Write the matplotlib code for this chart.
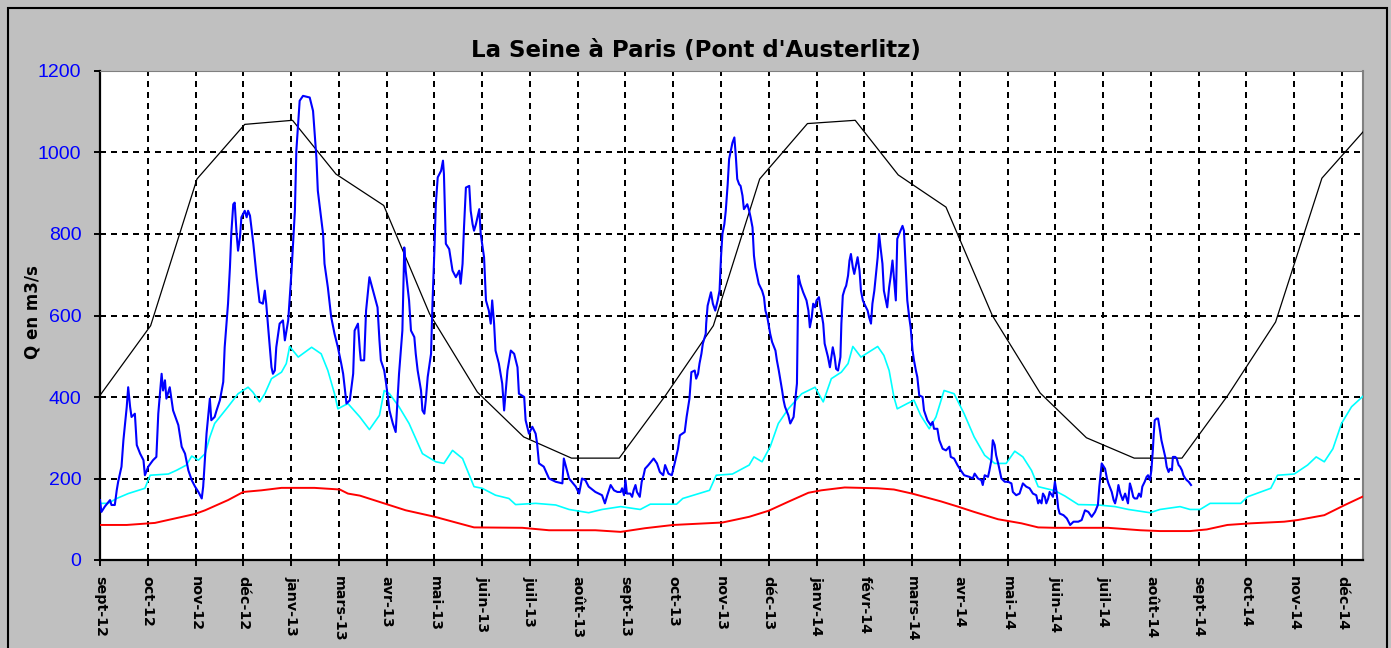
import matplotlib
matplotlib.use('Agg')
import matplotlib.pyplot as plt
from matplotlib.patches import Rectangle

# x positions are in axis-tick units (one tick = 31 days, tick 0 = late Sept 2012)
tick_labels = ['sept-12', 'oct-12', 'nov-12', 'déc-12', 'janv-13', 'mars-13', 'avr-13',
               'mai-13', 'juin-13', 'juil-13', 'août-13', 'sept-13', 'oct-13', 'nov-13',
               'déc-13', 'janv-14', 'févr-14', 'mars-14', 'avr-14', 'mai-14', 'juin-14',
               'juil-14', 'août-14', 'sept-14', 'oct-14', 'nov-14', 'déc-14']
y_ticks = [0, 200, 400, 600, 800, 1000, 1200]

# monthly high flows (black)
black_t = [0.0, 1.06, 2.03, 3.03, 4.03, 4.94, 5.94, 6.90, 7.90, 8.87, 9.87, 10.87, 11.84, 12.84,
           13.81, 14.81, 15.81, 16.71, 17.71, 18.68, 19.68, 20.65, 21.65, 22.65, 23.61, 24.61,
           25.58, 26.58]
black_q = [404, 575, 935, 1069, 1079, 947, 870, 604, 412, 302, 250, 250, 404, 575,
           935, 1071, 1079, 945, 866, 600, 410, 300, 250, 250, 404, 584, 937, 1069]

# low flows (red)
red_t = [0.00, 0.56, 1.15, 1.57, 1.99, 2.20, 2.68, 3.00, 3.38, 3.80, 4.49, 5.02, 5.19, 5.44,
         6.00, 6.40, 7.01, 7.45, 7.83, 8.84, 9.40, 10.37, 10.90, 11.41, 12.00, 13.03, 13.59,
         14.00, 14.41, 14.83, 15.10, 15.59, 16.28, 16.62, 17.00, 17.60, 17.96, 18.30, 18.80,
         19.29, 19.64, 20.00, 21.10, 21.78, 22.19, 22.82, 23.17, 23.60, 24.09, 24.79, 25.07,
         25.63, 26.06, 26.46]
red_q = [86, 86, 91, 102, 113, 122, 147, 167, 171, 177, 177, 173, 163, 158,
         137, 122, 106, 92, 80, 79, 73, 73, 69, 78, 86, 92, 106,
         121, 143, 165, 171, 178, 176, 173, 163, 144, 131, 118, 100,
         90, 80, 79, 79, 73, 71, 71, 75, 86, 90, 94, 98,
         110, 135, 157]

# mean daily flows (cyan)
cyan_t = [0.00, 0.17, 0.35, 0.59, 0.94, 1.05, 1.43, 1.60, 1.81, 1.92, 2.06, 2.20, 2.30, 2.40,
          2.68, 2.89, 3.10, 3.20, 3.34, 3.45, 3.59, 3.80, 3.90, 3.97, 4.15, 4.43, 4.63, 4.77,
          4.91, 4.98, 5.19, 5.44, 5.64, 5.85, 5.95, 6.06, 6.26, 6.47, 6.75, 7.03, 7.20, 7.38,
          7.59, 7.83, 8.00, 8.28, 8.56, 8.70, 9.12, 9.54, 9.82, 10.23, 10.51, 10.90, 11.31,
          11.52, 12.07, 12.20, 12.76, 12.90, 13.24, 13.59, 13.69, 13.86, 14.03, 14.20, 14.41,
          14.69, 14.97, 15.14, 15.31, 15.52, 15.66, 15.76, 15.93, 16.28, 16.41, 16.52, 16.62,
          16.69, 16.90, 17.04, 17.18, 17.36, 17.50, 17.67, 17.88, 18.09, 18.30, 18.52, 18.73,
          18.97, 19.15, 19.32, 19.50, 19.64, 19.99, 20.20, 20.48, 20.90, 21.25, 21.53, 21.98,
          22.19, 22.61, 22.82, 23.03, 23.24, 23.88, 24.02, 24.51, 24.65, 25.00, 25.28, 25.46,
          25.63, 25.81, 25.99, 26.20, 26.46]
cyan_q = [139, 139, 151, 163, 176, 208, 211, 220, 233, 255, 245, 261, 302, 335,
          376, 408, 424, 412, 388, 408, 445, 461, 482, 524, 498, 522, 506, 465,
          408, 371, 384, 351, 320, 355, 416, 408, 376, 335, 261, 241, 237, 269,
          249, 180, 176, 159, 151, 136, 139, 135, 124, 116, 124, 131, 124,
          137, 137, 151, 171, 208, 211, 233, 253, 241, 278, 335, 371,
          408, 424, 388, 445, 461, 482, 524, 498, 524, 502, 465, 400,
          371, 384, 392, 355, 322, 351, 416, 408, 359, 302, 257, 237,
          237, 267, 253, 220, 180, 170, 157, 136, 135, 131, 124, 116,
          124, 131, 124, 124, 139, 139, 155, 176, 208, 211, 233, 253,
          241, 273, 335, 376, 404]

# observed daily flow Sept 2012 - Aug 2014 (blue)
blue_t = [0.00, 0.03, 0.10, 0.21, 0.24, 0.31, 0.35, 0.38, 0.45, 0.49, 0.56, 0.59, 0.63, 0.66,
          0.73, 0.77, 0.84, 0.91, 0.94, 1.01, 1.11, 1.18, 1.22, 1.29, 1.32, 1.36, 1.39, 1.46,
          1.53, 1.64, 1.71, 1.78, 1.85, 1.92, 1.99, 2.06, 2.13, 2.16, 2.23, 2.30, 2.33, 2.40,
          2.44, 2.51, 2.58, 2.61, 2.68, 2.72, 2.75, 2.79, 2.82, 2.86, 2.89, 2.93, 2.96, 3.03,
          3.07, 3.10, 3.14, 3.21, 3.28, 3.34, 3.41, 3.45, 3.48, 3.52, 3.59, 3.62, 3.66, 3.69,
          3.76, 3.83, 3.87, 3.94, 4.01, 4.08, 4.11, 4.18, 4.25, 4.39, 4.46, 4.53, 4.56, 4.67,
          4.70, 4.77, 4.84, 4.91, 4.98, 5.05, 5.09, 5.16, 5.23, 5.30, 5.33, 5.40, 5.44,
          5.46, 5.53, 5.57, 5.64, 5.81, 5.85, 5.88, 5.95, 5.99, 6.06, 6.13, 6.19, 6.26, 6.33,
          6.37, 6.40, 6.47, 6.51, 6.58, 6.61, 6.65, 6.72, 6.75, 6.79, 6.82, 6.86, 6.93, 6.96,
          7.00, 7.03, 7.07, 7.14, 7.18, 7.20, 7.24, 7.31, 7.38, 7.45, 7.52, 7.55, 7.59, 7.62,
          7.66, 7.73, 7.76, 7.80, 7.83, 7.87, 7.94, 7.97, 8.04, 8.08, 8.14, 8.18, 8.21, 8.25,
          8.28, 8.35, 8.42, 8.46, 8.49, 8.53, 8.60, 8.67, 8.74, 8.77, 8.88, 8.91, 8.98, 9.05,
          9.12, 9.15, 9.19, 9.29, 9.40, 9.54, 9.68, 9.71, 9.82, 9.96, 10.03, 10.09, 10.16,
          10.23, 10.37, 10.51, 10.57, 10.62, 10.69, 10.76, 10.83, 10.90,
          10.93, 10.97, 11.00, 11.03, 11.10, 11.14, 11.17, 11.21, 11.24, 11.30, 11.34, 11.38,
          11.41, 11.48, 11.59, 11.66, 11.72, 11.79, 11.83, 11.90, 11.97, 12.03, 12.10, 12.14,
          12.24, 12.28, 12.34, 12.38, 12.45, 12.48, 12.52, 12.55, 12.59, 12.62, 12.68, 12.69,
          12.72, 12.79, 12.83, 12.88, 12.93, 12.97, 13.00, 13.03, 13.07, 13.10, 13.14, 13.17,
          13.24, 13.28, 13.31, 13.34, 13.38, 13.41, 13.45, 13.48, 13.55, 13.59, 13.62, 13.66,
          13.69, 13.72, 13.79, 13.86, 13.90, 13.93, 13.97, 14.03, 14.07, 14.14, 14.17, 14.21,
          14.28, 14.31, 14.34, 14.41, 14.45, 14.52, 14.55, 14.59, 14.62, 14.66, 14.72, 14.79,
          14.83, 14.86, 14.90, 14.93, 14.97, 15.00, 15.05, 15.07, 15.14, 15.17, 15.24, 15.28,
          15.34, 15.38, 15.41, 15.45, 15.50, 15.52, 15.55, 15.59, 15.62, 15.66, 15.69, 15.72,
          15.76, 15.79, 15.86, 15.90, 15.93, 15.97, 16.00, 16.07, 16.10, 16.14, 16.17, 16.21,
          16.28, 16.31,
          16.34, 16.38, 16.41, 16.45, 16.48, 16.52, 16.55, 16.59, 16.62, 16.66, 16.69, 16.73,
          16.80, 16.83, 16.87, 16.90, 16.94, 16.97, 17.01, 17.04, 17.08, 17.11, 17.15, 17.22,
          17.25, 17.32, 17.39, 17.43, 17.46, 17.53, 17.57, 17.64, 17.71, 17.78, 17.81, 17.88,
          17.95, 18.02, 18.09, 18.20, 18.27, 18.31, 18.38, 18.45, 18.48, 18.52, 18.59, 18.62,
          18.66, 18.69, 18.73, 18.76, 18.81, 18.87, 18.94, 19.01, 19.08, 19.11, 19.18, 19.25,
          19.32, 19.39, 19.46, 19.53, 19.60, 19.64, 19.67, 19.71, 19.74, 19.78, 19.81, 19.85,
          19.88, 19.95, 19.99, 20.02, 20.06, 20.09, 20.17, 20.24, 20.31, 20.38, 20.48, 20.55,
          20.62, 20.69, 20.76, 20.83, 20.89, 20.92, 20.97, 21.04, 21.08, 21.11, 21.18, 21.22,
          21.25, 21.29, 21.32, 21.36, 21.41, 21.46, 21.52,
          21.56, 21.59, 21.63, 21.66, 21.71, 21.75, 21.79, 21.82, 21.87, 21.91, 21.94, 21.98,
          22.01, 22.04, 22.06, 22.08, 22.12, 22.15, 22.19, 22.22, 22.26, 22.30, 22.33, 22.37,
          22.40, 22.44, 22.46, 22.51, 22.54, 22.58, 22.61, 22.65, 22.68, 22.72, 22.75, 22.79,
          22.84]
blue_q = [147, 118, 131, 147, 135, 135, 171, 192, 229, 294, 376, 424, 376, 351,
          359, 282, 261, 245, 208, 229, 245, 253, 359, 457, 416, 441, 396, 424,
          367, 331, 278, 261, 220, 196, 180, 167, 151, 180, 310, 396, 343, 351,
          367, 392, 437, 522, 629, 718, 804, 873, 877, 800, 759, 792, 841, 857,
          841, 857, 845, 776, 694, 633, 629, 661, 629, 571, 473, 457, 465, 522,
          580, 588, 539, 588, 710, 857, 1004, 1127, 1139, 1135, 1102, 988, 906, 800,
          727, 669, 596, 555, 522, 482, 457, 384, 392, 457, 563, 580, 514,
          490, 490, 612, 694, 620, 539, 490, 465, 433, 367, 335, 314, 457, 563,
          767, 710, 637, 563, 547, 506, 465, 416, 367, 359, 392, 449, 506, 629,
          759, 873, 939, 955, 980, 947, 776, 763, 710, 694, 710, 678, 727, 816,
          914, 918, 857, 824, 808, 824, 861, 800, 743, 637, 612, 580, 637, 580,
          514, 482, 433, 367, 408, 465, 514, 506, 473, 408, 400, 343, 310, 327,
          310, 286, 237, 229, 200, 192, 188, 249, 200, 180, 163, 200, 196,
          180, 167, 159, 139, 159, 184, 171, 167, 167,
          176, 159, 196, 163, 163, 155, 171, 184, 167, 155, 192, 208,
          224, 233, 249, 237, 216, 208, 233, 212, 208, 237, 273, 306,
          314, 351, 396, 461, 465, 445, 457, 482, 506, 531, 555, 580,
          624, 657, 629, 612, 637, 661, 743, 800, 824, 857, 922, 984,
          1024, 1037, 992, 935, 922, 918, 894, 861, 873, 857, 841, 816,
          747, 718, 678, 661, 645, 612, 596, 555, 535, 514, 490, 465,
          416, 392, 376, 355, 335, 351, 388, 433, 698, 678, 657, 637,
          612, 571, 596, 629, 620, 637, 645, 629, 580, 531, 498, 473,
          522, 498, 469, 465, 498, 580, 649, 665, 673, 698, 735, 751,
          718, 702, 743, 710, 661, 637, 629, 612, 596, 580, 629, 661,
          743, 800,
          767, 727, 661, 637, 620, 669, 694, 735, 694, 637, 788, 800,
          820, 808, 710, 637, 596, 571, 514, 490, 465, 449, 404, 400,
          367, 343, 331, 339, 322, 322, 294, 273, 269, 278, 253, 249,
          233, 220, 208, 204, 200, 212, 200, 196, 184, 208, 204, 220,
          245, 294, 282, 257, 233, 200, 192, 192, 188, 167, 159, 163,
          188, 180, 176, 163, 159, 139, 147, 139, 163, 155, 139, 151,
          167, 155, 192, 171, 127, 114, 110, 102, 86, 94, 94, 98,
          122, 118, 106, 118, 135, 180, 237, 224, 200, 188, 167, 147,
          139, 159, 184, 163, 147, 163, 139,
          188, 176, 155, 151, 151, 163, 155, 180, 192, 204, 208, 196,
          220, 269, 310, 343, 347, 347, 318, 294, 273, 253, 229, 216,
          224, 220, 253, 253, 249, 233, 229, 220, 208, 200, 196, 192,
          184]

W, H = 1391, 648
fig = plt.figure(figsize=(W / 100, H / 100), dpi=100, facecolor='#c0c0c0')
ax = fig.add_axes([100 / W, 1 - 560 / H, 1263 / W, 489 / H])
ax.set_facecolor('white')

# dashed black grid (drawn by hand so the top border stays grey)
grid_style = dict(color='black', lw=1.44, linestyle=(0, (3, 2.5)), zorder=1)
for yv in y_ticks[1:-1]:
    ax.axhline(yv, **grid_style)
for xv in range(1, len(tick_labels)):
    ax.axvline(xv, **grid_style)

ax.plot(black_t, black_q, color='black', lw=0.9, zorder=3)
ax.plot(red_t, red_q, color='#ff0000', lw=1.4, zorder=3)
ax.plot(cyan_t, cyan_q, color='#00ffff', lw=1.2, zorder=4)
ax.plot(blue_t, blue_q, color='#0000ff', lw=1.5, zorder=5)

ax.set_xlim(0, 26.44)
ax.set_ylim(0, 1200)
ax.set_xticks(range(len(tick_labels)))
ax.set_xticklabels(tick_labels, rotation=270, fontsize=10.3, fontweight='bold',
                   family='DejaVu Sans')
ax.set_yticks(y_ticks)
ax.set_yticklabels([str(v) for v in y_ticks], fontsize=14, color='#0000ff',
                   family='Liberation Sans')
ax.tick_params(axis='x', length=4.5, width=1.4, pad=7)
ax.tick_params(axis='y', length=4.5, width=1.4, pad=9)

for side in ['left', 'bottom']:
    ax.spines[side].set_color('black')
    ax.spines[side].set_linewidth(1.6)
ax.spines['top'].set_color('#808080')
ax.spines['top'].set_linewidth(0.8)
ax.spines['right'].set_color('#808080')
ax.spines['right'].set_linewidth(1.5)

fig.text(0.5, 1 - 57 / H, "La Seine à Paris (Pont d'Austerlitz)", ha='center',
         va='baseline', fontsize=16.5, fontweight='bold', family='DejaVu Sans')
fig.text(32 / W, 1 - 312 / H, 'Q en m3/s', rotation=90, ha='center', va='center',
         fontsize=12, fontweight='bold', family='DejaVu Sans')

# black frame around the chart area
fig.patches.append(Rectangle((7.5 / W, -0.05), (1387 - 7.5) / W, 1.05 - 7.5 / H,
                             transform=fig.transFigure, fill=False, edgecolor='black',
                             lw=1.5, clip_on=False))

fig.savefig('out.png', dpi=100, facecolor=fig.get_facecolor())
